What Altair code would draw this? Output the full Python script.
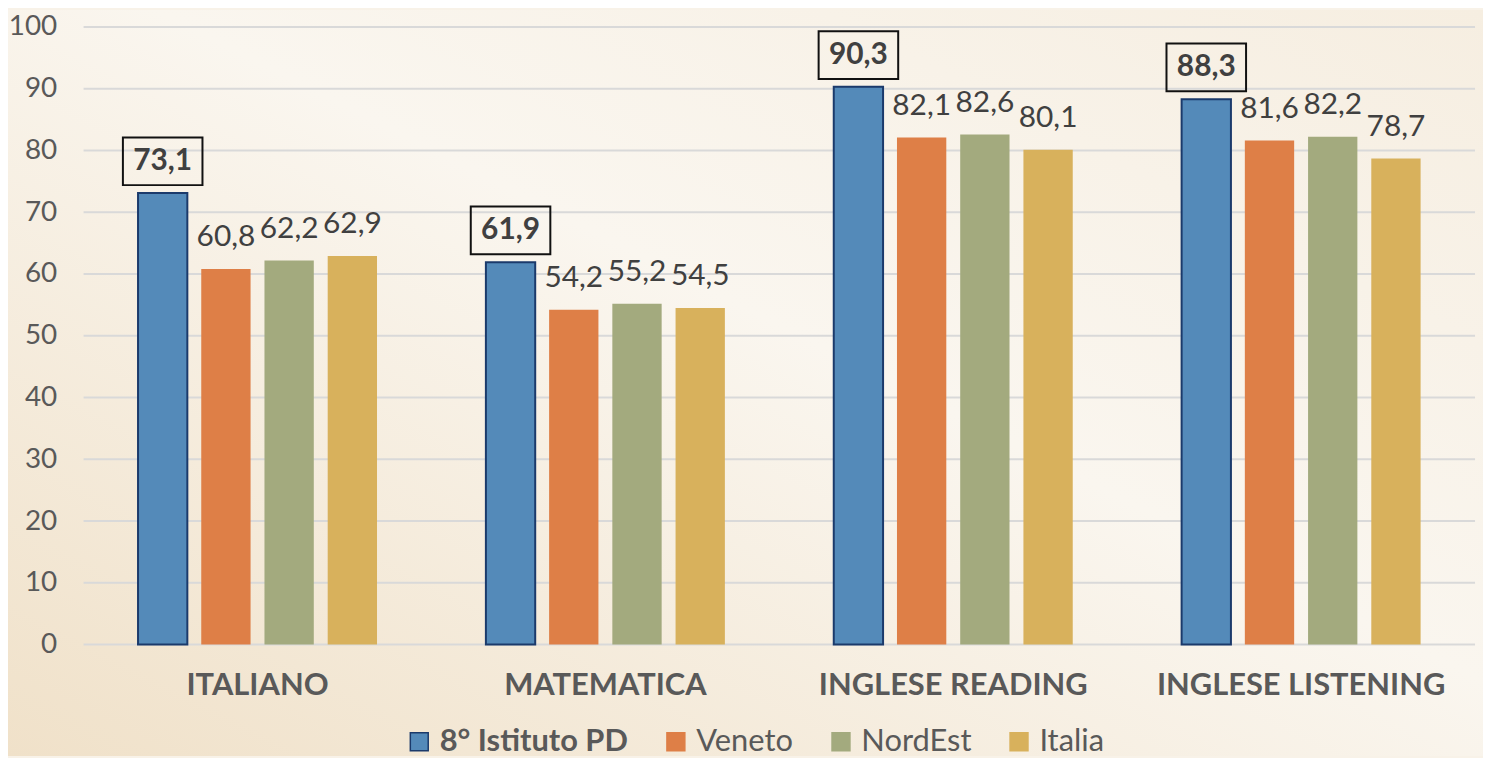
import altair as alt
import pandas as pd

subjects = ["ITALIANO", "MATEMATICA", "INGLESE READING", "INGLESE LISTENING"]
series = ["8° Istituto PD", "Veneto", "NordEst", "Italia"]
values = {
    "8° Istituto PD": [73.1, 61.9, 90.3, 88.3],
    "Veneto": [60.8, 54.2, 82.1, 81.6],
    "NordEst": [62.2, 55.2, 82.6, 82.2],
    "Italia": [62.9, 54.5, 80.1, 78.7],
}
y_ticks = list(range(0, 101, 10))
fill_colors = ["#548AB9", "#DE7F47", "#A3AA7E", "#D8B15C"]
stroke_colors = ["#1B3A6B", "#DE7F47", "#A3AA7E", "#D8B15C"]

rows = []
for s in series:
    for subj, v in zip(subjects, values[s]):
        rows.append({"subject": subj, "series": s, "value": v,
                     "label": f"{v:.1f}".replace(".", ",")})
df = pd.DataFrame(rows)

FONT = "Lato"
W, H = 1399, 621

x = alt.X("subject:N", sort=subjects,
          scale=alt.Scale(paddingInner=0.273, paddingOuter=0.1365),
          axis=alt.Axis(title=None, labelAngle=0, domain=False, ticks=False, zindex=2,
                        labelFontSize=31, labelFontWeight="bold", labelColor="#595959",
                        labelFont=FONT, labelPadding=26, labelLimit=600))
xo = alt.XOffset("series:N", sort=series,
                 scale=alt.Scale(paddingInner=0.22, paddingOuter=0.11))
yscale = alt.Scale(domain=[0, 100])
yaxis = alt.Axis(title=None, values=y_ticks, domain=False, ticks=False, grid=False,
                 zindex=2, labelFontSize=28, labelColor="#595959", labelFont=FONT,
                 labelPadding=27)
y = alt.Y("value:Q", scale=yscale, axis=yaxis)

base = alt.Chart(df)

bg = alt.Chart(pd.DataFrame({"k": [0]})).mark_rect(
    color={"gradient": "linear", "x1": 0, "y1": 1, "x2": 1, "y2": 0,
           "stops": [{"offset": 0, "color": "#F0E1C9"},
                     {"offset": 0.55, "color": "#FAF6EF"},
                     {"offset": 1, "color": "#F6EEE1"}]}
).encode(x=alt.value(-76), x2=alt.value(W + 8), y=alt.value(-17), y2=alt.value(H + 112))

grid = alt.Chart(pd.DataFrame({"t": y_ticks})).mark_rule(
    color="#D9D9D9", strokeWidth=2
).encode(y=alt.Y("t:Q", scale=yscale, axis=yaxis))

bars = base.mark_bar().encode(
    x=x, xOffset=xo, y=y,
    fill=alt.Fill("series:N", sort=series,
                  scale=alt.Scale(domain=series, range=fill_colors),
                  legend=alt.Legend(title=None, orient="none", direction="horizontal",
                                    legendX=322, legendY=703,
                                    symbolType="square", symbolSize=324,
                                    labelFontSize=31, labelFont=FONT, labelColor="#595959",
                                    labelFontWeight={"expr": "datum.label == '8° Istituto PD' ? 'bold' : 'normal'"},
                                    columnPadding=32, labelOffset=5,
                                    labelLimit=400)),
    stroke=alt.Stroke("series:N", sort=series,
                      scale=alt.Scale(domain=series, range=stroke_colors)),
    strokeWidth=alt.condition(alt.datum.series == "8° Istituto PD", alt.value(2), alt.value(0)),
)

labels = base.transform_filter(alt.datum.series != "8° Istituto PD").mark_text(
    baseline="middle", dy=-32, fontSize=30, font=FONT, color="#404040"
).encode(x=x, xOffset=xo, y=y, text="label:N")

blabels = base.transform_filter(alt.datum.series == "8° Istituto PD").mark_text(
    baseline="middle", dy=-32, fontSize=30, font=FONT, fontWeight="bold", color="#404040"
).encode(x=x, xOffset=xo, y=y, text="label:N")

boxes = base.transform_filter(alt.datum.series == "8° Istituto PD").mark_point(
    shape="M-1,-0.6L1,-0.6L1,0.6L-1,0.6Z", size=6400, filled=False,
    stroke="#111111", strokeWidth=2, yOffset=-32, opacity=1
).encode(x=x, xOffset=xo, y=y)

chart = alt.layer(bg, grid, bars, labels, blabels, boxes).properties(
    width=W, height=H,
    autosize=alt.AutoSizeParams(type="none"),
    padding={"left": 76, "top": 17, "right": 8, "bottom": 112},
    background="#F8F2E8",
).configure_view(stroke=None)

chart.save("out.html", embed_options={"renderer": "svg", "actions": False})
